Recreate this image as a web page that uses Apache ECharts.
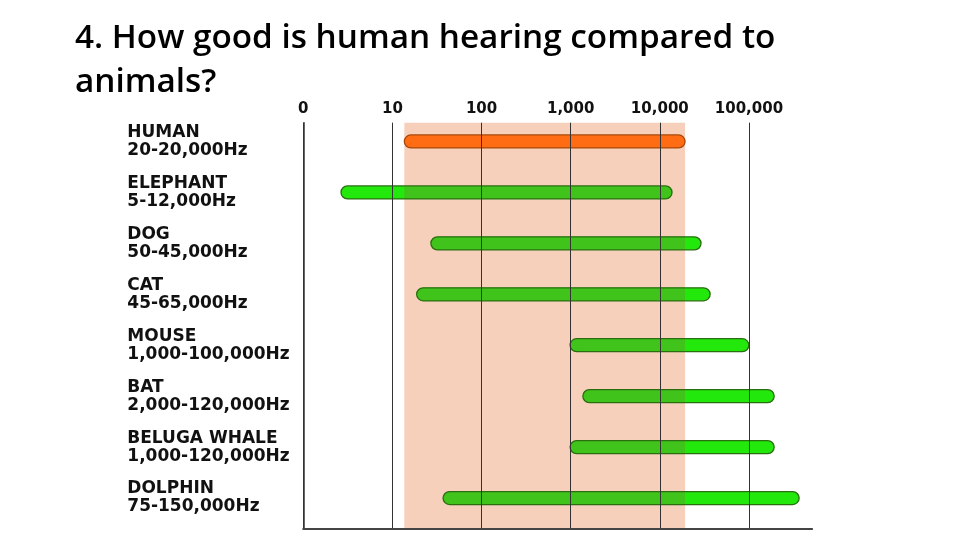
<!DOCTYPE html>
<html>
<head>
<meta charset="utf-8">
<script src="https://cdn.jsdelivr.net/npm/echarts@6/dist/echarts.min.js"></script>
<style>html,body{margin:0;padding:0;background:#fff}#c{width:960px;height:540px}</style>
</head>
<body>
<div id="c"></div>
<script>
// ---- data ----
var animals = ['HUMAN', 'ELEPHANT', 'DOG', 'CAT', 'MOUSE', 'BAT', 'BELUGA WHALE', 'DOLPHIN'];
var rangeLabels = ['20-20,000Hz', '5-12,000Hz', '50-45,000Hz', '45-65,000Hz', '1,000-100,000Hz', '2,000-120,000Hz', '1,000-120,000Hz', '75-150,000Hz'];
// drawn extent of each bar (Hz, log scale)
var lowHz  = [13.6, 2.65, 27, 18.7, 985, 1370, 985, 37];
var highHz = [19200, 13700, 29000, 36700, 99800, 192000, 192000, 366000];
var tickValues = [1, 10, 100, 1000, 10000, 100000];
var tickLabels = ['0', '10', '100', '1,000', '10,000', '100,000'];
var humanBand = [13.6, 19200];
var titleText = '4. How good is human hearing compared to\nanimals?';

var categories = animals.map(function (a, i) { return a + '\n' + rangeLabels[i]; });
var barData = animals.map(function (a, i) { return [lowHz[i], highHz[i], i]; });

var X_MIN = 1, X_MAX = 510000;
var chart = echarts.init(document.getElementById('c'));

function fmt(v) {
  var k = tickValues.indexOf(Math.round(v));
  return k >= 0 ? tickLabels[k] : '';
}

chart.setOption({
  backgroundColor: '#ffffff',
  animation: false,
  title: {
    text: titleText,
    left: 70, top: 12,
    textStyle: { fontFamily: 'Open Sans', fontSize: 33.3, fontWeight: 600, color: '#000', lineHeight: 44 }
  },
  grid: [
    { left: 303.3, right: 148, top: 122.7, bottom: 11 },
    { left: 303.3, right: 148, top: 116, bottom: 16.5 }
  ],
  xAxis: [
    {
      gridIndex: 0, type: 'log', logBase: 10, min: X_MIN, max: X_MAX, position: 'top', z: 10,
      axisLine: { show: true, lineStyle: { color: '#333', width: 1.5 } },
      axisTick: { show: false },
      axisLabel: { formatter: fmt, showMaxLabel: false, margin: 6, fontFamily: 'DejaVu Sans', fontWeight: 'bold', fontSize: 15, color: '#111' },
      splitLine: { show: true, showMaxLine: false, lineStyle: { color: '#333', width: 1 } }
    },
    {
      gridIndex: 1, type: 'log', logBase: 10, min: X_MIN, max: X_MAX, show: false
    },
    {
      gridIndex: 0, type: 'log', logBase: 10, min: X_MIN, max: X_MAX, position: 'bottom', z: 10,
      axisLine: { show: true, lineStyle: { color: '#444', width: 2 } },
      axisTick: { show: false }, axisLabel: { show: false }, splitLine: { show: false }
    }
  ],
  yAxis: [
    {
      gridIndex: 0, type: 'value', min: 0, max: 1, z: 10,
      axisLine: { show: true, lineStyle: { color: '#333', width: 1.5 } },
      axisTick: { show: false }, axisLabel: { show: false }, splitLine: { show: false }
    },
    {
      gridIndex: 1, type: 'category', inverse: true, data: categories,
      axisLine: { show: false }, axisTick: { show: false }, splitLine: { show: false },
      axisLabel: { align: 'left', margin: 176, fontFamily: 'DejaVu Sans', fontWeight: 'bold', fontSize: 17, lineHeight: 18, color: '#111' }
    }
  ],
  series: [
    {
      type: 'custom', xAxisIndex: 0, yAxisIndex: 0, z: 1,
      encode: { x: [0, 1] },
      data: [humanBand],
      renderItem: function (params, api) {
        var cs = params.coordSys;
        var a = api.coord([api.value(0), 0.5]);
        var b = api.coord([api.value(1), 0.5]);
        return {
          type: 'rect',
          shape: { x: a[0], y: cs.y, width: b[0] - a[0], height: cs.height },
          style: { fill: '#f6d0bb' }
        };
      }
    },
    {
      type: 'custom', xAxisIndex: 1, yAxisIndex: 1, z: 2,
      encode: { x: [0, 1], y: 2 },
      data: barData,
      renderItem: function (params, api) {
        var idx = api.value(2);
        var p0 = api.coord([api.value(0), idx]);
        var p1 = api.coord([api.value(1), idx]);
        var bl = api.coord([humanBand[0], idx])[0];
        var br = api.coord([humanBand[1], idx])[0];
        var h = 13, r = h / 2;
        var y = p0[1] - h / 2;
        var isHuman = idx === 0;
        var outFill = isHuman ? '#ff6c14' : '#22e80c';
        var inFill = isHuman ? '#ff6c14' : '#40c41c';
        var sx = Math.max(p0[0], bl), ex = Math.min(p1[0], br);
        var children = [
          { type: 'rect', shape: { x: p0[0], y: y, width: p1[0] - p0[0], height: h, r: r }, style: { fill: outFill } }
        ];
        if (ex > sx) {
          var lr = sx <= p0[0] + 0.01 ? r : 0;
          var rr = ex >= p1[0] - 0.01 ? r : 0;
          children.push({ type: 'rect', shape: { x: sx, y: y, width: ex - sx, height: h, r: [lr, rr, rr, lr] }, style: { fill: inFill } });
        }
        children.push({ type: 'rect', shape: { x: p0[0], y: y, width: p1[0] - p0[0], height: h, r: r },
          style: { fill: 'none', stroke: isHuman ? '#a84808' : '#2a6e10', lineWidth: 1.3 } });
        return { type: 'group', children: children };
      }
    }
  ]
});
</script>
</body>
</html>
